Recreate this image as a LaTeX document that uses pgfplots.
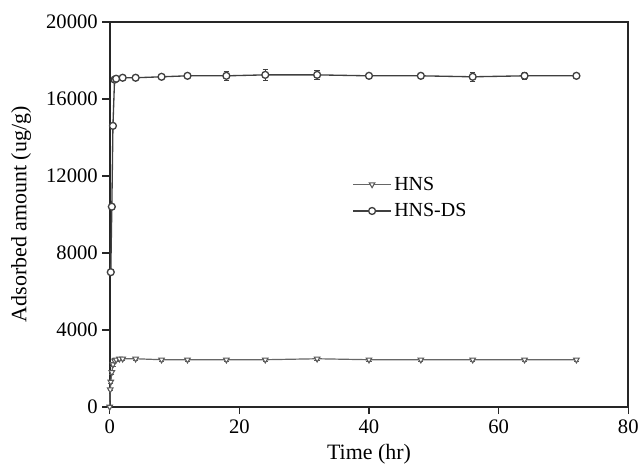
\documentclass[border=0pt]{standalone}
\usepackage{pgfplots}
\pgfplotsset{compat=1.18}
\usepackage{fontspec}
\setmainfont{Liberation Serif}
\begin{document}
\begin{tikzpicture}
\begin{axis}[
  width=390pt, height=289.5pt, scale only axis,
  xmin=0, xmax=80, ymin=0, ymax=20000,
  xtick={0,20,40,60,80}, ytick={0,4000,8000,12000,16000,20000},
  tick align=outside, xtick pos=bottom, ytick pos=left,
  major tick length=5.5pt,
  axis line style={line width=1.4pt, black!85},
  tick style={line width=1.1pt, black!85},
  /pgf/number format/assume math mode=true,
  scaled y ticks=false,
  yticklabel style={/pgf/number format/.cd, fixed, 1000 sep={}},
  ticklabel style={font=\fontsize{15.5}{17}\selectfont},
  xticklabel style={yshift=-1pt},
  label style={font=\fontsize{16.5}{18}\selectfont},
  xlabel={Time (hr)}, ylabel={Adsorbed amount (ug/g)},
  xlabel style={at={(axis description cs:0.5,-0.123)}, anchor=center},
  ylabel style={at={(axis description cs:-0.171,0.5)}, anchor=center},
  legend style={at={(0.46,0.612)}, anchor=north west, draw=none, fill=none,
    font=\fontsize{15}{17}\selectfont, row sep=4.5pt},
  legend cell align=left,
  legend image code/.code={
    \draw[#1, mark repeat=2, mark phase=2] plot coordinates {(0cm,0cm) (0.5cm,0cm) (1cm,0cm)};
  },
  clip=false,
]
\addplot[black!60, line width=0.9pt,
  mark=triangle*, mark options={rotate=180, fill=white, draw=black!65, line width=0.8pt, scale=1.2},
  error bars/.cd, y dir=both, y explicit, error bar style={black!65, line width=0.8pt}]
  table[x=t, y=v, y error=e] {
  t v e
  0 0 0
  0.083 900 60
  0.167 1300 80
  0.33 1800 80
  0.5 2200 100
  0.75 2400 100
  1 2450 100
  1.5 2500 100
  2 2500 100
  4 2500 100
  8 2450 100
  12 2450 100
  18 2450 80
  24 2450 100
  32 2500 100
  40 2450 100
  48 2450 100
  56 2450 100
  64 2450 100
  72 2450 100
  };
\addlegendentry{HNS}
\addplot[black!75, line width=1pt,
  mark=*, mark options={fill=white, draw=black!75, line width=1pt, scale=1.3},
  error bars/.cd, y dir=both, y explicit, error bar style={black!75, line width=0.9pt}]
  table[x=t, y=v, y error=e] {
  t v e
  0.167 7000 0
  0.33 10400 0
  0.5 14600 0
  0.75 17000 100
  1 17050 150
  2 17100 150
  4 17100 100
  8 17150 150
  12 17200 100
  18 17200 250
  24 17250 300
  32 17250 250
  40 17200 100
  48 17200 150
  56 17150 250
  64 17200 200
  72 17200 100
  };
\addlegendentry{HNS-DS}
\end{axis}
\path ([shift={(-82.5pt,-46.5pt)}]current axis.south west) ([shift={(9.75pt,16.5pt)}]current axis.north east);
\end{tikzpicture}
\end{document}
